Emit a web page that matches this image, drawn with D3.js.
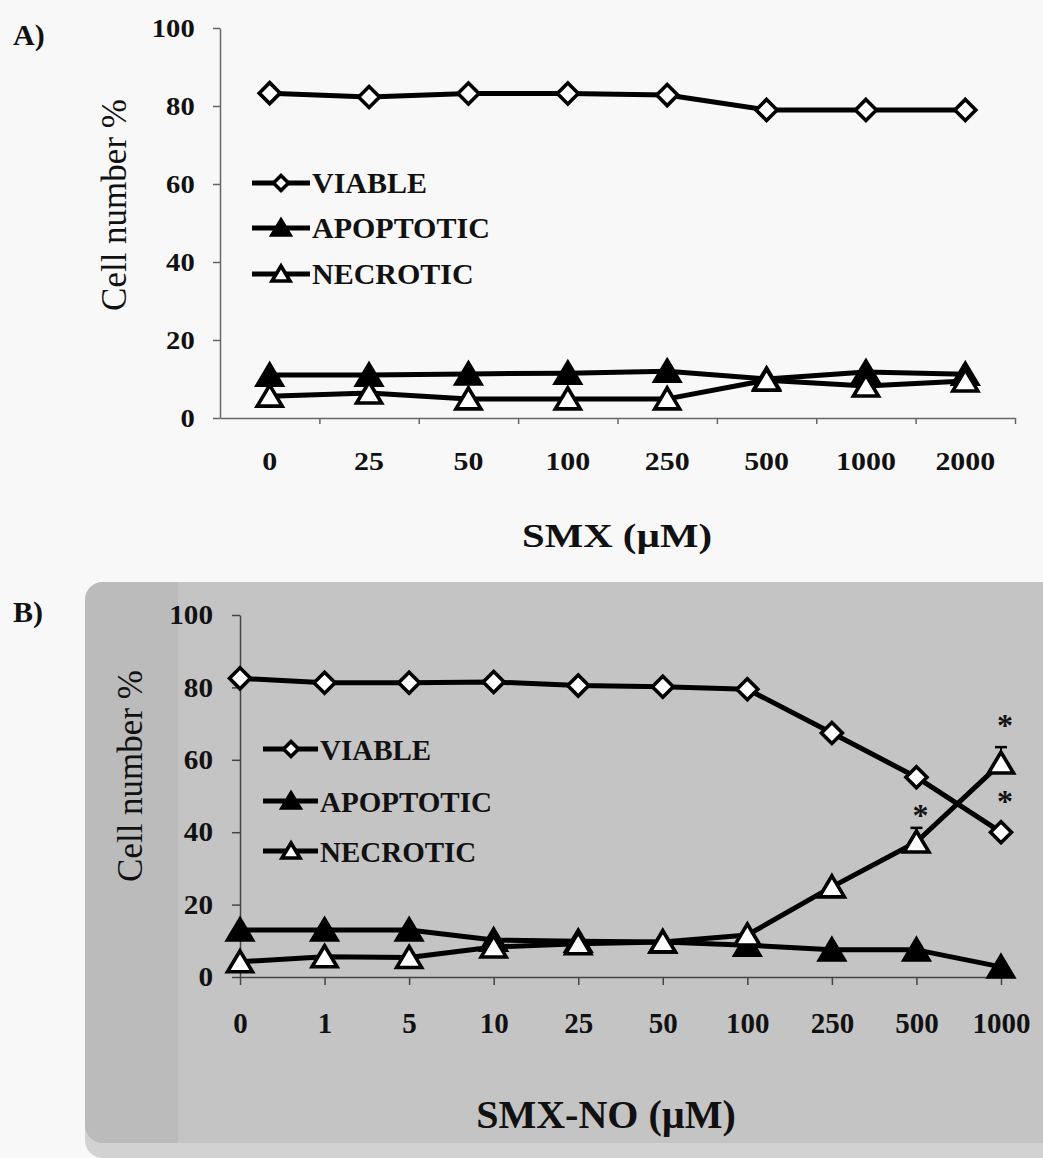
<!DOCTYPE html>
<html>
<head>
<meta charset="utf-8">
<script src="https://cdn.jsdelivr.net/npm/d3@7"></script>
<style>
  html, body { margin: 0; padding: 0; background: #f8f8f8; }
  svg { display: block; }
  text { font-family: "Liberation Serif", "Times New Roman", serif; fill: #111; }
</style>
</head>
<body>
<svg id="chart" width="1043" height="1158"></svg>
<script>
// ---------------- DATA ----------------
const seriesNames = ["VIABLE", "APOPTOTIC", "NECROTIC"];
const yTickValues = [0, 20, 40, 60, 80, 100];

// Panel A: SMX (µM)
const categoriesA = ["0", "25", "50", "100", "250", "500", "1000", "2000"];
const viableA     = [83.3, 82.3, 83.2, 83.2, 82.8, 79.0, 79.0, 79.0];
const apoptoticA  = [11.0, 11.0, 11.3, 11.5, 12.0, 10.0, 11.8, 11.2];
const necroticA   = [5.6, 6.4, 4.9, 4.9, 4.9, 9.7, 8.2, 9.5];

// Panel B: SMX-NO (µM)
const categoriesB = ["0", "1", "5", "10", "25", "50", "100", "250", "500", "1000"];
const viableB     = [82.5, 81.3, 81.3, 81.5, 80.5, 80.2, 79.5, 67.4, 55.2, 40.0];
const apoptoticB  = [13.0, 13.0, 13.0, 10.2, 9.9, 9.7, 8.8, 7.5, 7.5, 2.8];
const necroticB   = [4.2, 5.6, 5.4, 8.3, 9.2, 9.7, 11.6, 24.9, 37.3, 59.1];
const necroticErrB = [0, 0, 0, 0, 0, 0, 0, 0, 3.9, 4.4];
// significance marks (*): [category, series index]
const sigMarksB = [["500", 2], ["1000", 2], ["1000", 0]];

// ---------------- DRAWING ----------------
const svg = d3.select("#chart");
const FONT = '"Liberation Serif", "Times New Roman", serif';

function diamondPath(r) { return `M0,${-r}L${r},0L0,${r}L${-r},0Z`; }
function trianglePath(hw, top, bot) { return `M0,${-top}L${hw},${bot}L${-hw},${bot}Z`; }

function marker(g, type, x, y, big) {
  const sw = 3.6;
  if (type === 0) {
    g.append("path").attr("d", diamondPath(big ? 10.5 : 7.5))
      .attr("transform", `translate(${x},${y})`)
      .attr("fill", "#fff").attr("stroke", "#000").attr("stroke-width", sw)
      .attr("stroke-linejoin", "miter");
  } else {
    const p = big ? trianglePath(12.5, 11, 10) : trianglePath(9, 8, 7);
    g.append("path").attr("d", p)
      .attr("transform", `translate(${x},${y})`)
      .attr("fill", type === 1 ? "#000" : "#fff").attr("stroke", "#000")
      .attr("stroke-width", sw).attr("stroke-linejoin", "miter");
  }
}

function styleAxis(g, color, width) {
  g.selectAll(".domain").attr("stroke", color).attr("stroke-width", width);
  g.selectAll(".tick line").attr("stroke", color).attr("stroke-width", width);
}

// ====== Panel B background box ======
svg.append("rect").attr("x", 85).attr("y", 582).attr("width", 1000).attr("height", 576)
  .attr("rx", 18).attr("fill", "#d2d2d2");
svg.append("rect").attr("x", 85).attr("y", 582).attr("width", 1000).attr("height", 561)
  .attr("rx", 18).attr("fill", "#bbbbbb");
svg.append("rect").attr("x", 178).attr("y", 582).attr("width", 865).attr("height", 561)
  .attr("fill", "#c4c4c4");

// ====== Panel A ======
(function () {
  const gA = svg.append("g");
  const x = d3.scaleBand().domain(categoriesA).range([220, 1015]);
  const xb = d3.scaleLinear().domain([0, categoriesA.length]).range([220, 1015]);
  const y = d3.scaleLinear().domain([0, 100]).range([418, 28]);
  const axCol = "#666";

  const ya = gA.append("g").attr("transform", "translate(220,0)")
    .call(d3.axisLeft(y).tickValues(yTickValues).tickSize(7).tickSizeOuter(0).tickPadding(16));
  styleAxis(ya, axCol, 1.5);
  ya.selectAll("text").attr("font-family", FONT).attr("font-size", 26).attr("font-weight", "bold")
    .attr("fill", "#111").attr("transform", "scale(1.1,1)");

  const xa = gA.append("g").attr("transform", "translate(0,418)")
    .call(d3.axisBottom(xb).tickValues(d3.range(1, categoriesA.length + 1)).tickFormat("").tickSize(6).tickSizeOuter(0));
  styleAxis(xa, axCol, 1.5);
  const xl = gA.append("g").attr("transform", "translate(0,418)")
    .call(d3.axisBottom(x).tickSize(0).tickPadding(34));
  xl.select(".domain").remove();
  xl.selectAll("text").attr("font-family", FONT).attr("font-size", 26).attr("font-weight", "bold")
    .attr("fill", "#111").attr("transform", "scale(1.15,1)");

  const cx = c => x(c) + x.bandwidth() / 2;
  const all = [viableA, apoptoticA, necroticA];
  const line = d3.line();
  all.forEach((vals, si) => {
    const pts = categoriesA.map((c, i) => [cx(c), y(vals[i])]);
    gA.append("path").attr("d", line(pts)).attr("fill", "none").attr("stroke", "#000")
      .attr("stroke-width", 5).attr("stroke-linejoin", "round");
    pts.forEach(p => marker(gA, si, p[0], p[1], true));
  });

  const legY = [183, 228, 274];
  seriesNames.forEach((n, i) => {
    gA.append("line").attr("x1", 252).attr("x2", 310).attr("y1", legY[i]).attr("y2", legY[i])
      .attr("stroke", "#000").attr("stroke-width", 5);
    marker(gA, i, 281, legY[i], false);
    gA.append("text").attr("x", 312).attr("y", legY[i] + 10).attr("font-size", 30)
      .attr("font-weight", "bold").text(n);
  });

  gA.append("text").attr("transform", "translate(114,205) rotate(-90)")
    .attr("text-anchor", "middle").attr("dy", "0.35em").attr("font-size", 35)
    .attr("fill", "#222").text("Cell number %");
  gA.append("text").attr("x", 617 / 1.2).attr("y", 547).attr("transform", "scale(1.2,1)")
    .attr("text-anchor", "middle").attr("font-size", 34).attr("font-weight", "bold").text("SMX (µM)");
  gA.append("text").attr("x", 13).attr("y", 45).attr("font-size", 30).attr("font-weight", "bold").text("A)");
})();

// ====== Panel B ======
(function () {
  const gB = svg.append("g");
  const x = d3.scalePoint().domain(categoriesB).range([240, 1001]);
  const y = d3.scaleLinear().domain([0, 100]).range([977, 615]);
  const axCol = "#444";

  const ya = gB.append("g").attr("transform", "translate(240,0)")
    .call(d3.axisLeft(y).tickValues(yTickValues).tickSize(8).tickSizeOuter(0).tickPadding(17));
  styleAxis(ya, axCol, 1.5);
  ya.selectAll("text").attr("font-family", FONT).attr("font-size", 27).attr("font-weight", "bold")
    .attr("fill", "#111").attr("transform", "scale(1.08,1)");

  const xa = gB.append("g").attr("transform", "translate(0,977)")
    .call(d3.axisBottom(x).tickSize(8).tickSizeOuter(0).tickPadding(27));
  styleAxis(xa, axCol, 1.5);
  xa.selectAll("text").attr("font-family", FONT).attr("font-size", 29).attr("font-weight", "bold")
    .attr("fill", "#111");

  const all = [viableB, apoptoticB, necroticB];
  const line = d3.line();
  all.forEach((vals, si) => {
    const pts = categoriesB.map((c, i) => [x(c), y(vals[i])]);
    gB.append("path").attr("d", line(pts)).attr("fill", "none").attr("stroke", "#000")
      .attr("stroke-width", 5).attr("stroke-linejoin", "round");
    if (si === 2) {
      categoriesB.forEach((c, i) => {
        if (necroticErrB[i] > 0) {
          const xx = x(c), y0 = y(vals[i]), y1 = y(vals[i] + necroticErrB[i]);
          gB.append("line").attr("x1", xx).attr("x2", xx).attr("y1", y0).attr("y2", y1)
            .attr("stroke", "#000").attr("stroke-width", 2);
          gB.append("line").attr("x1", xx - 6).attr("x2", xx + 6).attr("y1", y1).attr("y2", y1)
            .attr("stroke", "#000").attr("stroke-width", 2.5);
        }
      });
    }
    pts.forEach(p => marker(gB, si, p[0], p[1], true));
  });

  const vals = [viableB, apoptoticB, necroticB];
  const sigOffset = { "500-2": 30, "1000-2": 41, "1000-0": 34 };
  sigMarksB.forEach(([c, si]) => {
    const i = categoriesB.indexOf(c);
    const off = sigOffset[c + "-" + si];
    gB.append("text").attr("x", x(c) + 4).attr("y", y(vals[si][i]) - off + 14)
      .attr("text-anchor", "middle").attr("font-size", 32).attr("font-weight", "bold").text("*");
  });

  const legY = [749, 801, 851];
  seriesNames.forEach((n, i) => {
    gB.append("line").attr("x1", 263).attr("x2", 318).attr("y1", legY[i]).attr("y2", legY[i])
      .attr("stroke", "#000").attr("stroke-width", 5);
    marker(gB, i, 291, legY[i], false);
    gB.append("text").attr("x", 320).attr("y", legY[i] + 11).attr("font-size", 29)
      .attr("font-weight", "bold").text(n);
  });

  gB.append("text").attr("transform", "translate(130,776) rotate(-90)")
    .attr("text-anchor", "middle").attr("dy", "0.35em").attr("font-size", 35)
    .attr("fill", "#333").text("Cell number %");
  gB.append("text").attr("x", 606).attr("y", 1128)
    .attr("text-anchor", "middle").attr("font-size", 40).attr("font-weight", "bold").text("SMX-NO (µM)");
  gB.append("text").attr("x", 13).attr("y", 622).attr("font-size", 30).attr("font-weight", "bold").text("B)");
})();
</script>
</body>
</html>
